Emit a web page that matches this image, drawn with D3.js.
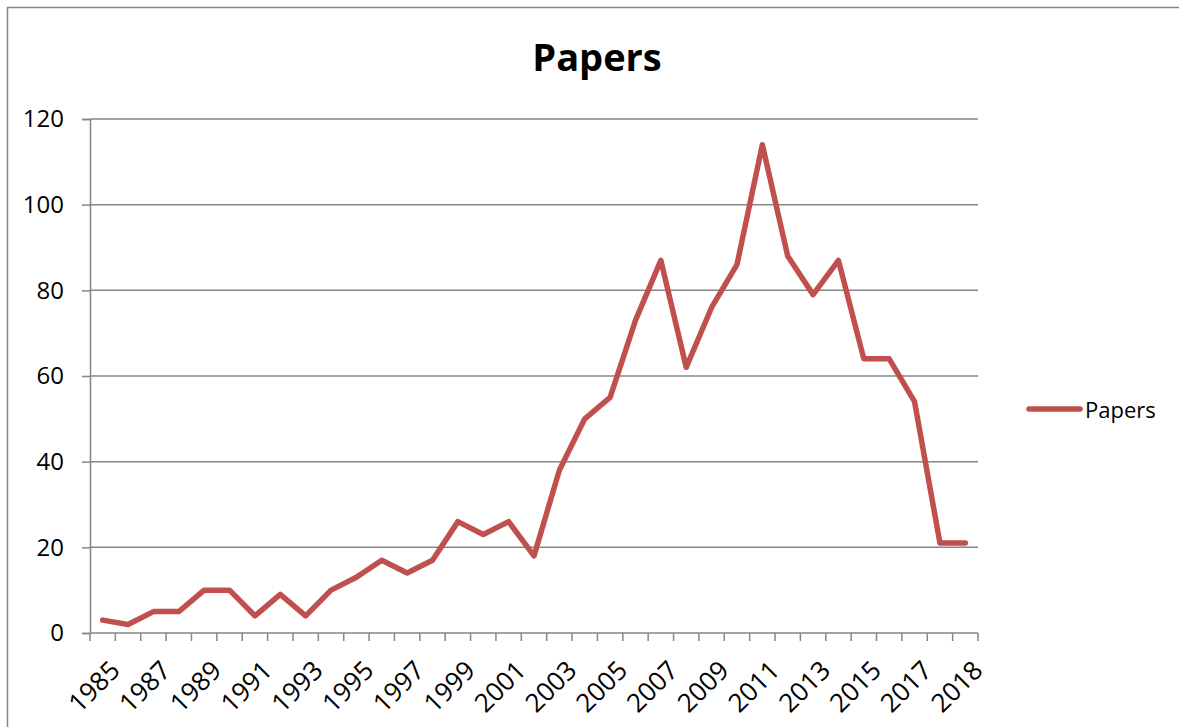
<!DOCTYPE html>
<html>
<head>
<meta charset="utf-8">
<script src="https://cdn.jsdelivr.net/npm/d3@7"></script>
<style>
  html, body { margin: 0; padding: 0; background: #fff; }
  svg { display: block; }
  text { font-family: "Open Sans", "Noto Sans", sans-serif; fill: #000; }
</style>
</head>
<body>
<svg id="chart" width="1179" height="727"></svg>
<script>
// ---- data ----
const categories = ["1985","1986","1987","1988","1989","1990","1991","1992","1993","1994",
  "1995","1996","1997","1998","1999","2000","2001","2002","2003","2004",
  "2005","2006","2007","2008","2009","2010","2011","2012","2013","2014",
  "2015","2016","2017","2018","2018"];
const papers = [3,2,5,5,10,10,4,9,4,10,13,17,14,17,26,23,26,18,38,50,55,73,87,62,76,86,114,88,79,87,64,64,54,21,21];
const shownLabelIndex = [0,2,4,6,8,10,12,14,16,18,20,22,24,26,28,30,32,34];
const yTicks = [0,20,40,60,80,100,120];
const seriesName = "Papers";
const titleText = "Papers";

// ---- layout ----
const svg = d3.select("#chart");
const plotL = 90, plotR = 978, plotT = 119, plotB = 633;
const gridColor = "#868686";
const lineColor = "#C0504D";

// outer chart border
svg.append("rect").attr("x", 7.5).attr("y", 7.5).attr("width", 1300).attr("height", 900)
  .attr("fill", "none").attr("stroke", gridColor).attr("stroke-width", 1.5);

const x = d3.scaleBand().domain(d3.range(categories.length)).range([plotL, plotR]).padding(0);
const y = d3.scaleLinear().domain([0, 120]).range([plotB, plotT]);

// gridlines
svg.append("g").selectAll("line").data(yTicks.filter(d => d > 0)).join("line")
  .attr("x1", plotL).attr("x2", plotR)
  .attr("y1", d => y(d)).attr("y2", d => y(d))
  .attr("stroke", gridColor).attr("stroke-width", 1.5);

// y axis
const yAxis = d3.axisLeft(y).tickValues(yTicks).tickSize(8).tickPadding(18).tickFormat(d3.format("d"));
const gy = svg.append("g").attr("transform", `translate(${plotL},0)`).call(yAxis);
gy.select(".domain").attr("stroke", gridColor).attr("stroke-width", 1.5);
gy.selectAll(".tick line").attr("stroke", gridColor).attr("stroke-width", 1.5);
gy.selectAll(".tick text").attr("font-size", 24).attr("font-family", "'Open Sans', sans-serif").attr("fill", "#000");

// x axis: ticks at category boundaries
const gx = svg.append("g").attr("transform", `translate(0,${plotB})`);
gx.append("line").attr("x1", plotL).attr("x2", plotR).attr("y1", 0).attr("y2", 0)
  .attr("stroke", gridColor).attr("stroke-width", 1.5);
const boundaries = d3.range(categories.length + 1).map(i => i < categories.length ? x(i) : x(categories.length - 1) + x.bandwidth());
gx.selectAll("line.tk").data(boundaries).join("line").attr("class", "tk")
  .attr("x1", d => d).attr("x2", d => d).attr("y1", 0).attr("y2", 8)
  .attr("stroke", gridColor).attr("stroke-width", 1.5);
gx.selectAll("text").data(shownLabelIndex).join("text")
  .attr("transform", i => `translate(${x(i) + x.bandwidth() / 2 + 6},${26}) rotate(-45)`)
  .attr("text-anchor", "end")
  .attr("dy", "0.7em")
  .attr("font-size", 26)
  .text(i => categories[i]);

// line
const line = d3.line().x((d, i) => x(i) + x.bandwidth() / 2).y(d => y(d));
svg.append("path").datum(papers).attr("d", line)
  .attr("fill", "none").attr("stroke", lineColor).attr("stroke-width", 5.5)
  .attr("stroke-linejoin", "round").attr("stroke-linecap", "round");

// title
svg.append("text").attr("x", 597).attr("y", 71).attr("text-anchor", "middle")
  .attr("font-size", 38).attr("font-weight", "bold").text(titleText);

// legend
const lg = svg.append("g").attr("transform", "translate(1027,409)");
lg.append("line").attr("x1", 2).attr("x2", 53).attr("y1", 0).attr("y2", 0)
  .attr("stroke", lineColor).attr("stroke-width", 5.5).attr("stroke-linecap", "round");
lg.append("text").attr("x", 58).attr("y", 9).attr("font-size", 22).text(seriesName);
</script>
</body>
</html>
